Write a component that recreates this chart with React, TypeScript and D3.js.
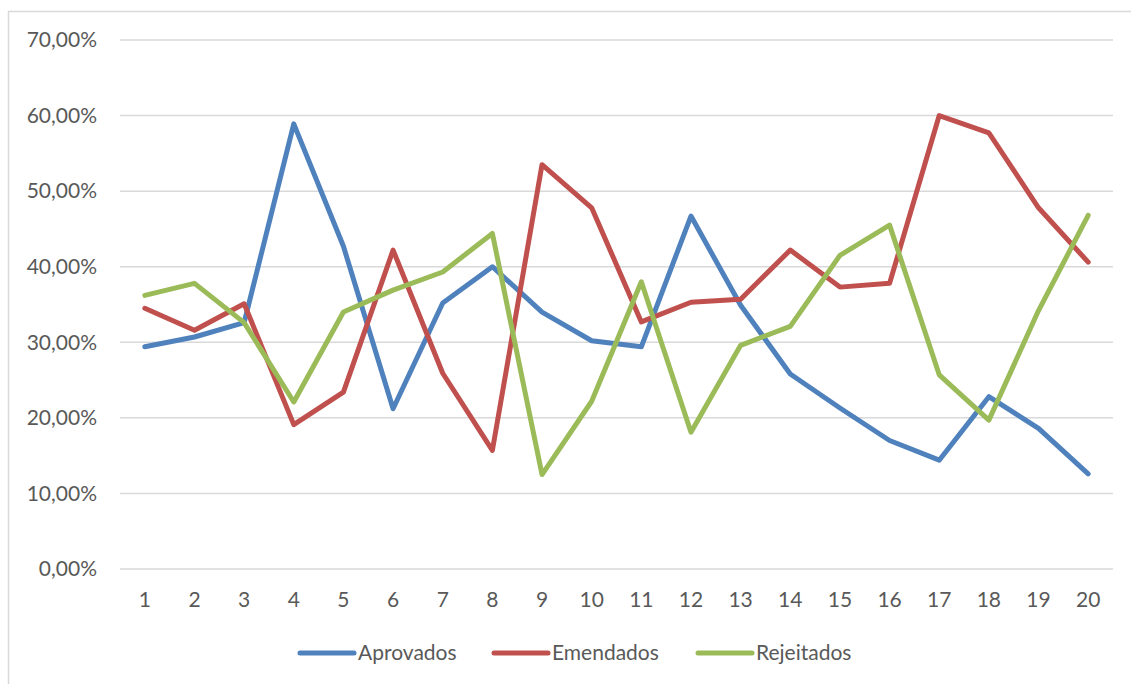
import React from "react";
import * as d3 from "d3";

const categories: string[] = ["1","2","3","4","5","6","7","8","9","10","11","12","13","14","15","16","17","18","19","20"];
const aprovados: number[] = [29.4,30.7,32.6,58.9,42.7,21.2,35.2,40.0,34.0,30.2,29.4,46.7,34.9,25.8,21.3,17.0,14.4,22.8,18.6,12.6];
const emendados: number[] = [34.5,31.6,35.1,19.1,23.4,42.2,25.9,15.7,53.5,47.8,32.7,35.3,35.7,42.2,37.3,37.8,60.0,57.7,47.8,40.6];
const rejeitados: number[] = [36.2,37.8,32.6,22.1,34.0,36.9,39.3,44.4,12.5,22.2,38.0,18.1,29.6,32.1,41.5,45.5,25.7,19.7,34.2,46.8];
const yTicks: number[] = [0,10,20,30,40,50,60,70];
const seriesNames: string[] = ["Aprovados","Emendados","Rejeitados"];
const seriesColors: string[] = ["#4F81BD","#C0504D","#9BBB59"];

const W = 1131, H = 684;
const FONT = "Lato, 'Open Sans', sans-serif";

export default function App() {
  const x = d3.scaleBand<string>().domain(categories).range([120, 1113]);
  const y = d3.scaleLinear().domain([0, 70]).range([569, 40]);
  const line = d3.line<number>()
    .x((_, i) => (x(categories[i]) as number) + x.bandwidth() / 2)
    .y((d) => y(d));
  const data = [aprovados, emendados, rejeitados];
  const fmt = (v: number) => v.toFixed(2).replace(".", ",") + "%";
  const legendItems = [
    { lx: 300, tx: 358 },
    { lx: 494, tx: 552 },
    { lx: 698, tx: 756 },
  ];
  return (
    <svg width={W} height={H} style={{ position: "absolute", left: 0, top: 0, display: "block" }}>
      <rect x={0} y={0} width={W} height={H} fill="#fff" />
      <rect x={8.5} y={11.5} width={W + 20} height={H + 20} fill="none" stroke="#D9D9D9" strokeWidth={1.5} />
      {yTicks.map((t) => (
        <g key={t}>
          <line x1={120} x2={1113} y1={y(t)} y2={y(t)} stroke="#D9D9D9" strokeWidth={1.5} />
          <text x={97} y={y(t)} dy="0.35em" textAnchor="end" fontFamily={FONT} fontSize={21} fill="#595959">
            {fmt(t)}
          </text>
        </g>
      ))}
      {categories.map((c) => (
        <text key={c} x={(x(c) as number) + x.bandwidth() / 2} y={600} dy="0.35em" textAnchor="middle"
          fontFamily={FONT} fontSize={21} fill="#595959">{c}</text>
      ))}
      {data.map((d, i) => (
        <path key={i} d={line(d) as string} fill="none" stroke={seriesColors[i]} strokeWidth={5}
          strokeLinejoin="round" strokeLinecap="round" />
      ))}
      {seriesNames.map((n, i) => (
        <g key={n}>
          <line x1={legendItems[i].lx} x2={legendItems[i].lx + 54} y1={653} y2={653}
            stroke={seriesColors[i]} strokeWidth={5} strokeLinecap="round" />
          <text x={legendItems[i].tx} y={653} dy="0.35em" fontFamily={FONT} fontSize={21} fill="#595959">{n}</text>
        </g>
      ))}
    </svg>
  );
}
